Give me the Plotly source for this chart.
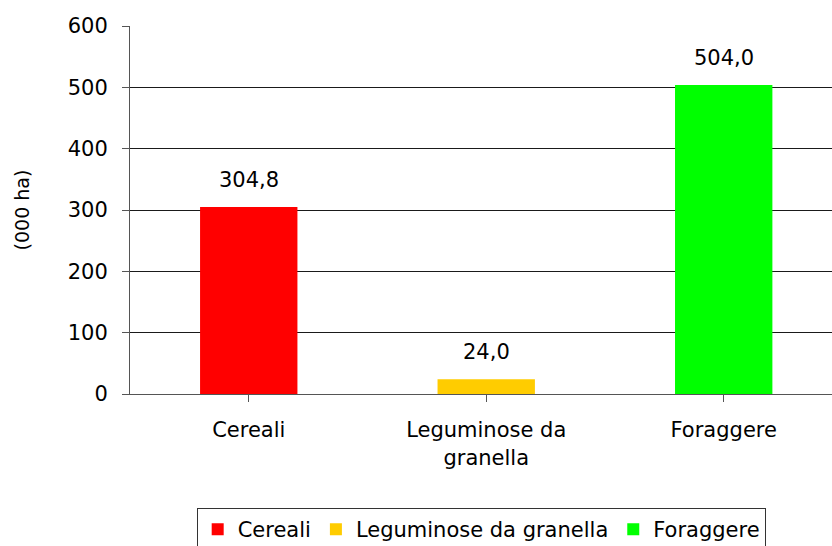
import plotly.graph_objects as go

categories = ["Cereali", "Leguminose da granella", "Foraggere"]
tick_labels = ["Cereali", "Leguminose da<br>granella", "Foraggere"]
values = [304.8, 24.0, 504.0]
colors = ["#FF0000", "#FFCC00", "#00FF00"]
y_ticks = [0, 100, 200, 300, 400, 500, 600]

fig = go.Figure()
for i, (cat, val, col) in enumerate(zip(categories, values, colors)):
    fig.add_trace(go.Bar(
        x=[i], y=[val], name=cat, marker=dict(color=col, line=dict(width=0)),
        width=0.41, hoverinfo="skip",
    ))
    fig.add_annotation(
        x=i, y=val, text=f"{val:.1f}".replace(".", ","), showarrow=False,
        yanchor="bottom", yshift=13, font=dict(size=21, color="#000000"),
    )

font = "DejaVu Sans, Arial, sans-serif"
fig.update_layout(
    width=832, height=546,
    margin=dict(l=130, r=0, t=26, b=152, autoexpand=False),
    paper_bgcolor="white", plot_bgcolor="white",
    barmode="overlay",
    separators=",.",
    font=dict(family=font, size=21, color="#000000"),
    showlegend=True,
    legend=dict(
        orientation="h", x=0.095, xanchor="left", y=-0.31, yanchor="top",
        bordercolor="#333333", borderwidth=1, font=dict(size=21),
        itemwidth=30, traceorder="normal", tracegroupgap=0,
    ),
    xaxis=dict(
        range=[-0.5, 2.456], tickmode="array", tickvals=[0, 1, 2], ticktext=tick_labels,
        tickson="boundaries", ticks="outside", ticklen=7, tickcolor="#555555",
        showline=True, linecolor="#555555", linewidth=1, showgrid=False,
        tickfont=dict(size=21), fixedrange=True, automargin=False,
        ticklabelstandoff=10,
    ),
    yaxis=dict(
        range=[0, 600], tickvals=y_ticks, ticks="outside", ticklen=7, tickcolor="#555555",
        showline=True, linecolor="#555555", linewidth=1,
        showgrid=True, gridcolor="#1a1a1a", gridwidth=1, zeroline=False,
        tickfont=dict(size=21), automargin=False, ticklabelstandoff=10,
        title=dict(text="(000 ha)", font=dict(size=19), standoff=33),
    ),
)

fig.write_html("out.html", config={"displayModeBar": False},
               post_script="document.body.style.margin='0px';")
